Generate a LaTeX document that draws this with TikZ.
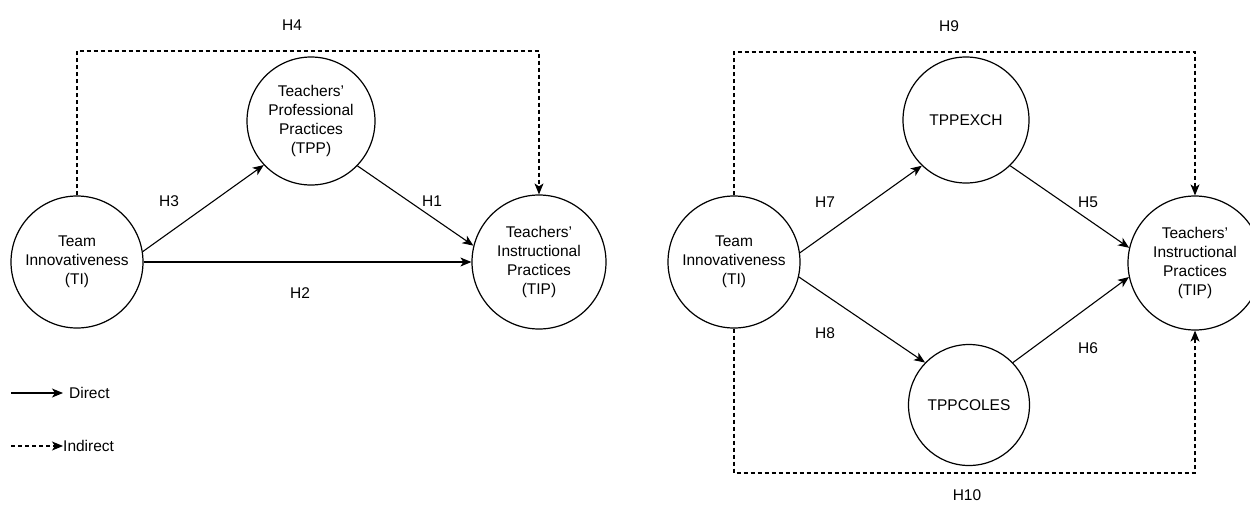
\documentclass[tikz,border=0pt]{standalone}
\usepackage{fontspec}
\setmainfont{Liberation Sans}
\usetikzlibrary{arrows.meta,calc}
\begin{document}
\begin{tikzpicture}[x=1pt,y=-1pt,
  every node/.style={font=\fontsize{15.5}{19}\selectfont},
  var/.style={circle,draw,line width=1.2pt,inner sep=0pt,align=center},
  conn/.style={line width=1.1pt,-{Stealth[length=11pt,width=9pt,inset=3pt]}},
  ind/.style={conn,dash pattern=on 4pt off 3pt},
  lbl/.style={inner sep=0pt}]
\useasboundingbox (0,0) rectangle (1250,504);
% left diagram
\node[var,minimum size=132pt] (ti) at (77,262) {Team\\Innovativeness\\(TI)};
\node[var,minimum size=128pt] (tpp) at (311,121) {Teachers'\\Professional\\Practices\\(TPP)};
\node[var,minimum size=134pt] (tip) at (539,262) {Teachers'\\Instructional\\Practices\\(TIP)};
\coordinate (h4top) at (300,51);
\draw[conn] (ti.9.5) -- (tpp.223);
\draw[conn] (tpp.316) -- (tip.166);
\draw[conn] (ti.east) -- (tip.west);
\draw[ind] (ti.north) |- (h4top) -| (tip.north);
\node[lbl] (h4) at (292,25) {H4};
\node[lbl] (h3) at (169,201) {H3};
\node[lbl] (h1) at (432,201) {H1};
\node[lbl] (h2) at (300,293) {H2};
% legend
\coordinate (ld1) at (11,393);
\coordinate (ld2) at (11,446);
\node[anchor=west,inner sep=0pt] (ldirect) at (69,393) {Direct};
\node[anchor=west,inner sep=0pt] (lindirect) at (63,446) {Indirect};
\draw[conn] (ld1) -- ($(ldirect.west)+(-6,0)$);
\draw[ind] (ld2) -- (lindirect.west);
% right diagram
\node[var,minimum size=132pt] (ti2) at (734,262) {Team\\Innovativeness\\(TI)};
\node[var,minimum size=126pt] (exch) at (966,120) {TPPEXCH};
\node[var,minimum size=121pt] (coles) at (969,405) {TPPCOLES};
\node[var,minimum size=134pt] (tip2) at (1195,263) {Teachers'\\Instructional\\Practices\\(TIP)};
\coordinate (h9top) at (960,52);
\coordinate (h10bot) at (960,473);
\draw[conn] (ti2.8.5) -- (exch.226);
\draw[conn] (exch.314) -- (tip2.167);
\draw[conn] (ti2.347) -- (coles.136);
\draw[conn] (coles.44) -- (tip2.192);
\draw[ind] (ti2.north) |- (h9top) -| (tip2.north);
\draw[ind] (ti2.south) |- (h10bot) -| (tip2.south);
\node[lbl] (h9) at (949,26) {H9};
\node[lbl] (h10) at (967,495) {H10};
\node[lbl] (h7) at (825,202) {H7};
\node[lbl] (h5) at (1088,202) {H5};
\node[lbl] (h8) at (825,333) {H8};
\node[lbl] (h6) at (1088,348) {H6};
\end{tikzpicture}
\end{document}
